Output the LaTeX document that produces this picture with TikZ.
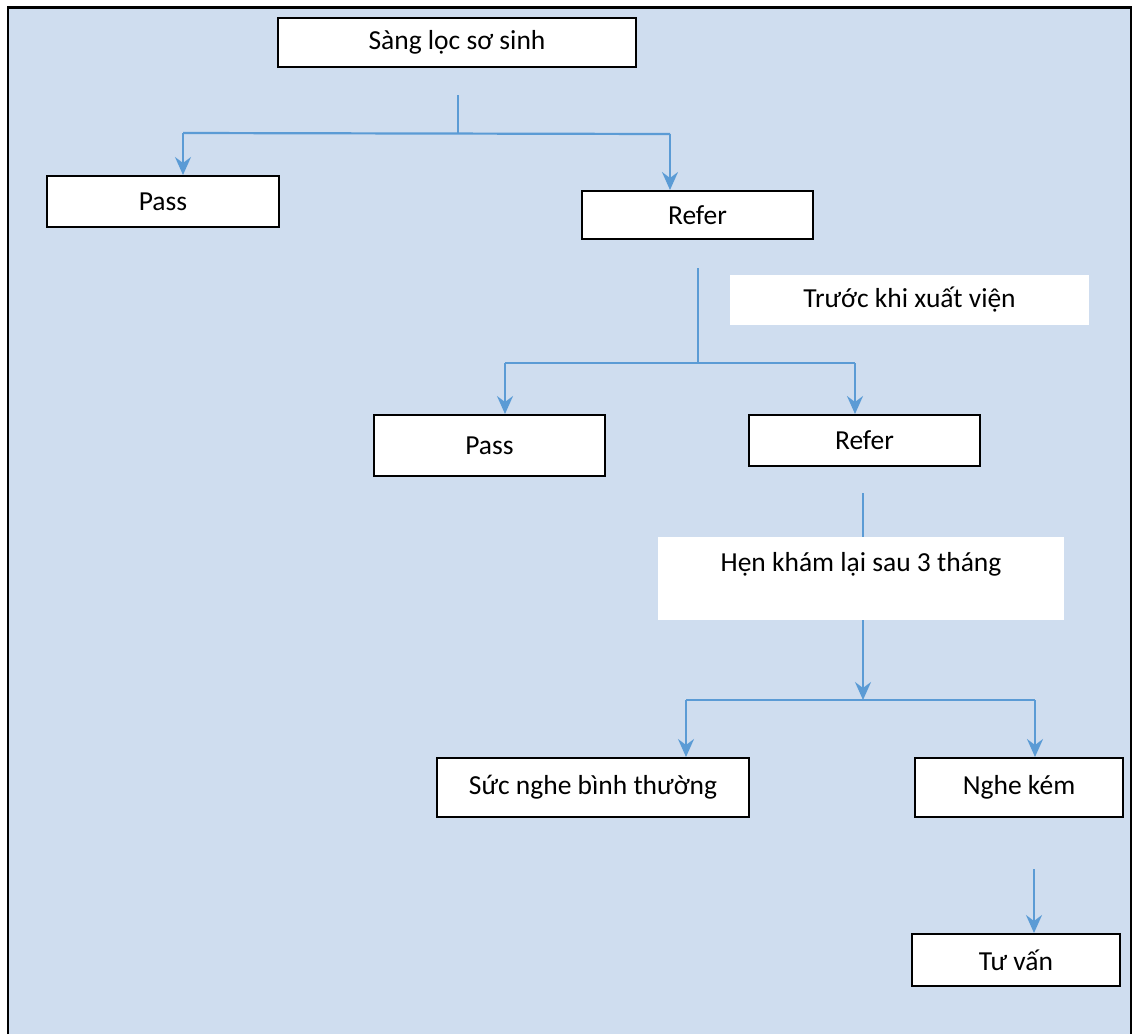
\documentclass[tikz,border=0pt]{standalone}
\usepackage{fontspec}
\setmainfont{Carlito}
\usetikzlibrary{arrows.meta}
\definecolor{bgblue}{RGB}{207,221,239}
\definecolor{linkblue}{RGB}{91,155,213}
\begin{document}
\begin{tikzpicture}[x=1pt,y=-1pt,
  box/.style={draw=black, line width=2pt, fill=white, inner sep=0pt,
    font=\fontsize{27.5}{33}\selectfont},
  note/.style={fill=white, inner sep=0pt, align=center,
    font=\fontsize{27.5}{33}\selectfont},
  link/.style={draw=linkblue, line width=2.2pt},
  flow/.style={link, -{Stealth[length=18pt,width=16pt,inset=6pt]}}]
\useasboundingbox (0,0) rectangle (1132,1034);
\fill[bgblue] (8,7.5) rectangle (1131,1034);
\draw[line width=2.5pt] (8,1034) -- (8,7.5) -- (1131,7.5) -- (1131,1034);

\node[box, minimum width=358pt, minimum height=49pt] (screen) at (457,42.5) {Sàng lọc sơ sinh};
\node[box, minimum width=232pt, minimum height=51pt] (pass1) at (163,201.5) {Pass};
\node[box, minimum width=231pt, minimum height=48pt] (refer1) at (697.5,215) {Refer};
\node[note, minimum width=359pt, minimum height=50pt] (before) at (909.5,300) {Trước khi xuất viện};
\node[box, minimum width=231pt, minimum height=61pt] (pass2) at (489.5,445.5) {Pass};
\node[box, minimum width=231pt, minimum height=51pt] (refer2) at (864.5,440.5) {Refer};
\node[note, minimum width=406pt, minimum height=83pt] (recheck) at (861,578.5) {Hẹn khám lại sau 3 tháng\\ {}};
\node[box, minimum width=312pt, minimum height=59pt] (normal) at (593,787.5) {Sức nghe bình thường};
\node[box, minimum width=208pt, minimum height=59pt] (loss) at (1019,787.5) {Nghe kém};
\node[box, minimum width=208pt, minimum height=52pt] (advice) at (1016,960) {Tư vấn};

\coordinate (t1) at (458,95);
\coordinate (j1) at (458,133);
\coordinate (l1) at (183,133);
\coordinate (r1) at (670,134);
\draw[link] (t1) -- (j1);
\draw[link] (l1) -- (r1);
\draw[flow] (l1) -- (l1 |- pass1.north);
\draw[flow] (r1) -- (r1 |- refer1.north);

\coordinate (t2) at (698,268);
\coordinate (j2) at (698,363);
\coordinate (l2) at (505,363);
\coordinate (r2) at (855,363);
\draw[link] (t2) -- (j2);
\draw[link] (l2) -- (r2);
\draw[flow] (l2) -- (l2 |- pass2.north);
\draw[flow] (r2) -- (r2 |- refer2.north);

\coordinate (t3) at (863,493);
\coordinate (j3) at (863,700);
\coordinate (l3) at (686,700);
\coordinate (r3) at (1035,700);
\draw[link] (t3) -- (t3 |- recheck.north);
\draw[flow] (t3 |- recheck.south) -- (j3);
\draw[link] (l3) -- (r3);
\draw[flow] (l3) -- (l3 |- normal.north);
\draw[flow] (r3) -- (r3 |- loss.north);

\coordinate (t4) at (1034,869);
\draw[flow] (t4) -- (t4 |- advice.north);
\end{tikzpicture}
\end{document}
